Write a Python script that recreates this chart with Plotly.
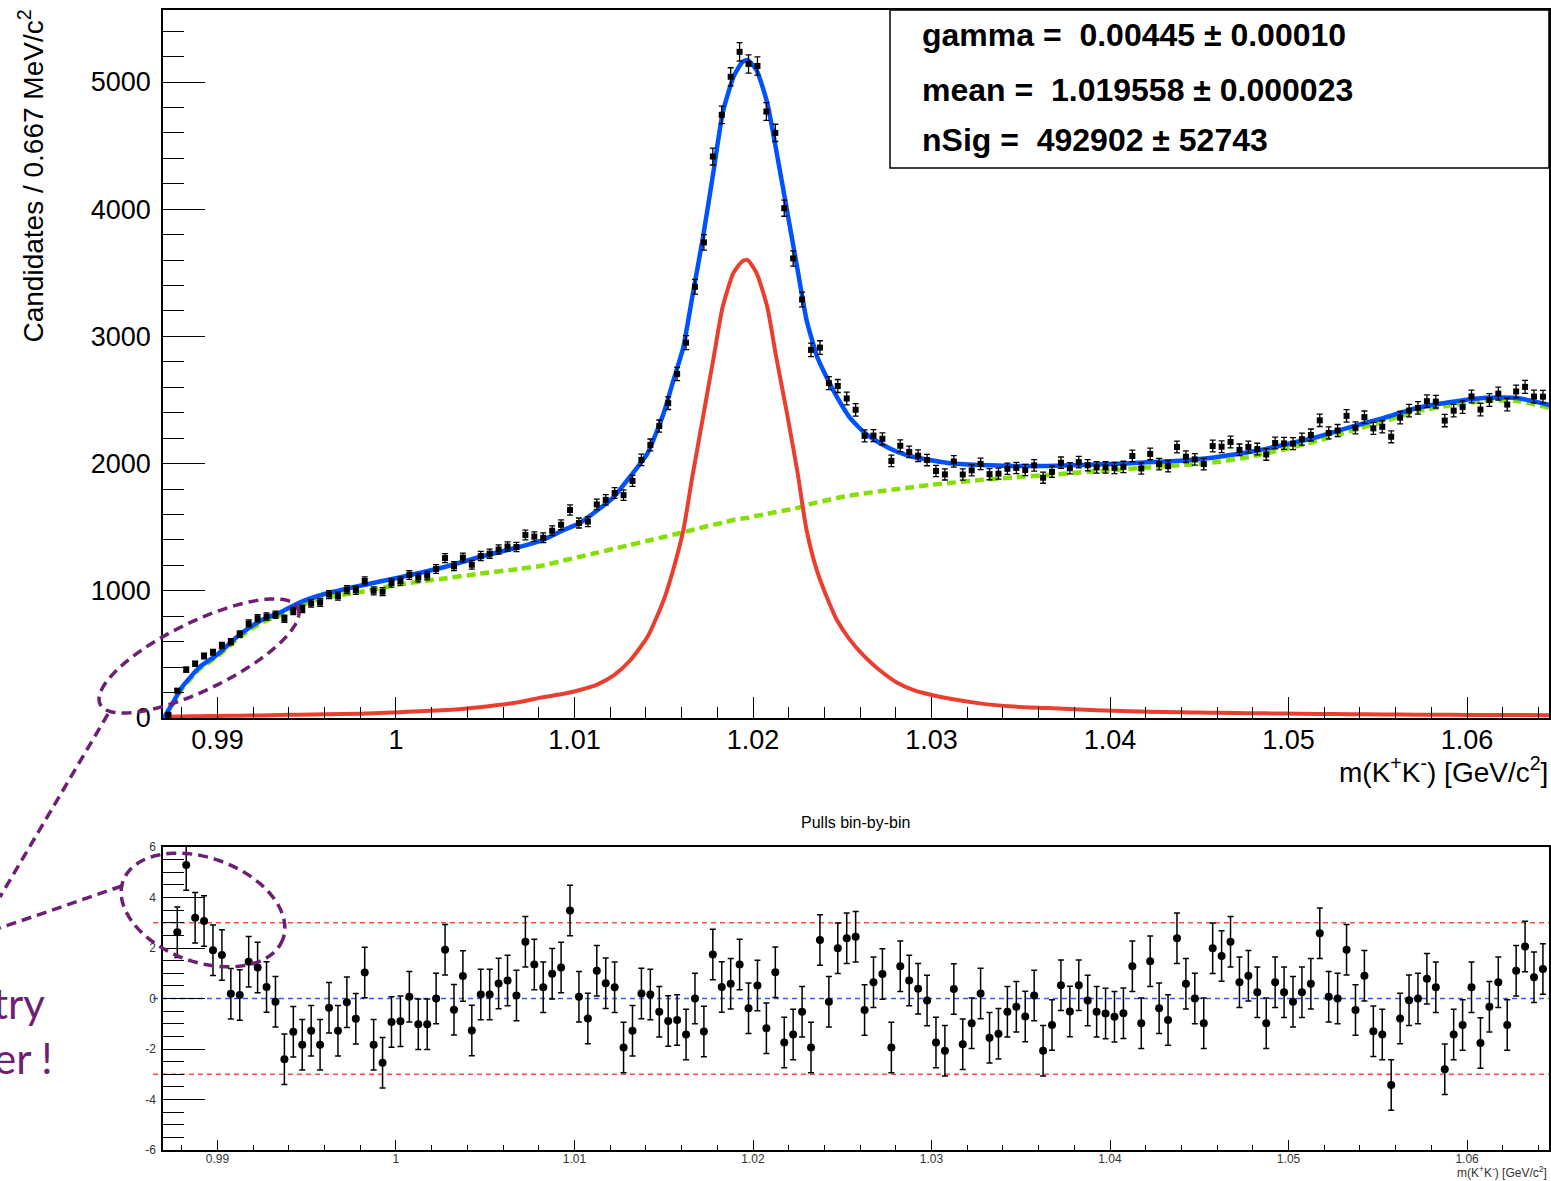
import numpy as np
import plotly.graph_objects as go

# ---------------- data ----------------
BIN_LOW = 0.9870
BIN_WIDTH = 0.0005

DATA_COUNTS = [
    25, 215, 380, 426, 488, 517, 570, 600, 659, 744,
    784, 798, 811, 780, 841, 857, 901, 908, 970, 958,
    1009, 1004, 1077, 1000, 993, 1061, 1076, 1124, 1104, 1119,
    1172, 1257, 1194, 1261, 1205, 1274, 1292, 1325, 1348, 1344,
    1439, 1426, 1417, 1472, 1519, 1635, 1533, 1544, 1679, 1715,
    1769, 1752, 1864, 2029, 2147, 2295, 2475, 2705, 2951, 3390,
    3739, 4414, 4742, 5041, 5237, 5142, 5126, 4768, 4600, 4008,
    3613, 3290, 2894, 2912, 2633, 2610, 2512, 2423, 2218, 2220,
    2195, 2021, 2140, 2092, 2062, 2028, 1942, 1915, 2017, 1914,
    1947, 1998, 1917, 1921, 1959, 1966, 1949, 1986, 1889, 1935,
    2007, 1964, 2012, 1987, 1970, 1970, 1966, 1974, 2060, 1962,
    2076, 1996, 1980, 2131, 2054, 2033, 1996, 2138, 2133, 2170,
    2108, 2131, 2114, 2072, 2162, 2159, 2157, 2192, 2225, 2340,
    2241, 2260, 2375, 2281, 2365, 2277, 2289, 2211, 2361, 2417,
    2438, 2491, 2487, 2338, 2416, 2444, 2528, 2425, 2500, 2550,
    2464, 2567, 2603, 2527, 2526,
]

PULLS = [
    2.62, 5.29, 3.2, 3.07, 1.91, 1.72, 0.19, 0.14, 1.46, 1.23,
    0.46, -0.13, -2.41, -1.32, -1.83, -1.28, -1.83, -0.37, -1.28, -0.15,
    -0.8, 1.03, -1.83, -2.54, -0.93, -0.9, 0.07, -1.02, -1.02, 0.0,
    1.93, -0.45, 0.89, -1.27, 0.16, 0.16, 0.59, 0.71, 0.12, 2.25,
    1.35, 0.45, 0.98, 1.23, 3.49, 0.07, -0.79, 1.1, 0.6, 0.45,
    -1.94, -1.28, 0.2, 0.16, -0.52, -0.89, -0.85, -1.43, 0.0, -1.31,
    1.74, 0.46, 0.58, 1.35, -0.39, 0.51, -1.18, 1.04, -1.74, -1.43,
    -0.52, -1.94, 2.32, -0.13, 1.99, 2.39, 2.45, -0.46, 0.64, 0.97,
    -1.94, 1.28, 0.71, 0.39, -0.08, -1.74, -2.07, 0.38, -1.81, -0.98,
    0.2, -1.55, -1.4, -0.52, -0.33, -0.71, 0.12, -2.07, -1.05, 0.52,
    -0.51, 0.52, -0.08, -0.52, -0.59, -0.72, -0.58, 1.28, -0.98, 1.48,
    -0.39, -0.85, 2.39, 0.58, 0.0, -0.98, 1.99, 1.68, 2.25, 0.64,
    0.9, 0.25, -0.98, 0.64, 0.25, -0.13, 0.25, 0.58, 2.58, 0.07,
    0.0, 1.93, -0.46, 0.9, -1.3, -1.43, -3.43, -0.79, -0.07, 0.0,
    0.78, 0.45, -2.8, -1.43, -1.05, 0.45, -1.76, -0.33, 0.64, -1.05,
    1.1, 2.06, 0.84, 1.17,
]

CURVE_X = [
    0.9870, 0.9875, 0.9880, 0.9890, 0.9900, 0.9912, 0.9924, 0.9935, 0.9946, 0.9960,
    0.9980, 1.0002, 1.0025, 1.0047, 1.0069, 1.0081, 1.0094, 1.0103, 1.0113, 1.0122,
    1.0131, 1.0141, 1.0150, 1.0155, 1.0161, 1.0166, 1.0172, 1.0178, 1.0183, 1.0189,
    1.0194, 1.0197, 1.0202, 1.0208, 1.0213, 1.0219, 1.0225, 1.0230, 1.0236, 1.0242,
    1.0247, 1.0254, 1.0262, 1.0271, 1.0281, 1.0290, 1.0299, 1.0309, 1.0327, 1.0346,
    1.0365, 1.0383, 1.0402, 1.0421, 1.0441, 1.0450, 1.0460, 1.0478, 1.0497, 1.0516,
    1.0535, 1.0553, 1.0572, 1.0591, 1.0609, 1.0628, 1.0646,
]

TOTAL_FIT = [
    0, 120, 240, 400, 500, 650, 765, 830, 908, 975,
    1040, 1105, 1179, 1266, 1344, 1392, 1478, 1533, 1635, 1737,
    1895, 2083, 2398, 2634, 2917, 3310, 3781, 4308, 4756, 5039,
    5157, 5173, 5094, 4835, 4465, 3994, 3522, 3129, 2838, 2657,
    2524, 2366, 2248, 2162, 2091, 2052, 2028, 2005, 1989, 1981,
    1981, 1989, 1997, 2010, 2024, 2036, 2052, 2091, 2146, 2209,
    2288, 2358, 2437, 2484, 2516, 2516, 2461,
]

SIGNAL = [
    8, 10, 12, 14, 16, 18, 20, 23, 26, 29,
    34, 45, 60, 85, 125, 160, 190, 220, 265, 335,
    450, 640, 928, 1150, 1478, 1895, 2366, 2838, 3231, 3498,
    3590, 3600, 3498, 3231, 2838, 2398, 1926, 1478, 1150, 928,
    770, 620, 490, 375, 275, 220, 185, 155, 115, 90,
    78, 66, 57, 50, 45, 43, 41, 38, 35, 32,
    30, 28, 26, 25, 24, 23, 22,
]

BACKGROUND = [
    0, 110, 225, 385, 484, 632, 745, 807, 882, 946,
    990, 1050, 1093, 1135, 1172, 1195, 1238, 1268, 1300, 1330,
    1360, 1393, 1423, 1440, 1460, 1478, 1500, 1520, 1535, 1557,
    1568, 1573, 1590, 1605, 1620, 1635, 1652, 1675, 1695, 1714,
    1730, 1748, 1765, 1782, 1800, 1816, 1832, 1846, 1871, 1891,
    1910, 1930, 1950, 1970, 1990, 1998, 2012, 2053, 2110, 2177,
    2258, 2330, 2411, 2459, 2492, 2493, 2439,
]

X_TICKS = [0.99, 1.00, 1.01, 1.02, 1.03, 1.04, 1.05, 1.06]
X_TICK_LABELS = ["0.99", "1", "1.01", "1.02", "1.03", "1.04", "1.05", "1.06"]
X_MINOR = [round(0.988 + 0.002 * i, 3) for i in range(39)]
Y_TICKS = [0, 1000, 2000, 3000, 4000, 5000]
Y_TICK_LABELS = ["0", "1000", "2000", "3000", "4000", "5000"]
Y_MINOR = [200 * i for i in range(28)]
PULL_TICKS = [-6, -4, -2, 0, 2, 4, 6]
PULL_TICK_LABELS = ["-6", "-4", "-2", "0", "2", "4", "6"]
PULL_MINOR = [-6 + 0.5 * i for i in range(25)]

STATS_LINES = [
    "gamma =\u00a0\u00a00.00445 \u00b1 0.00010",
    "mean =\u00a0\u00a01.019558 \u00b1 0.000023",
    "nSig =\u00a0\u00a0492902 \u00b1 52743",
]

X_RANGE = [0.98695, 1.06459]
Y_RANGE = [0, 5566]
PULL_RANGE = [-6, 6]

# ---------------- figure ----------------
W, H = 1551, 1181


def px(x):
    return x / W


def py(y):
    return 1 - y / H


centers = [BIN_LOW + BIN_WIDTH * (i + 0.5) for i in range(len(DATA_COUNTS))]
errors = [c ** 0.5 for c in DATA_COUNTS]
pull_x = centers[1:1 + len(PULLS)]

fig = go.Figure()

fig.add_trace(go.Scatter(x=CURVE_X, y=BACKGROUND, mode="lines", xaxis="x", yaxis="y",
                         line=dict(color="#84e000", width=4.5, dash="9px,5px", shape="spline", smoothing=0.5),
                         hoverinfo="skip"))
fig.add_trace(go.Scatter(x=CURVE_X, y=SIGNAL, mode="lines", xaxis="x", yaxis="y",
                         line=dict(color="#ea3f2e", width=4, shape="spline", smoothing=0.6),
                         hoverinfo="skip"))
fig.add_trace(go.Scatter(x=CURVE_X, y=TOTAL_FIT, mode="lines", xaxis="x", yaxis="y",
                         line=dict(color="#0052ff", width=4.5, shape="spline", smoothing=0.5),
                         hoverinfo="skip"))
fig.add_trace(go.Scatter(x=centers, y=DATA_COUNTS, mode="markers", xaxis="x", yaxis="y",
                         marker=dict(symbol="square", size=6, color="black"),
                         error_y=dict(type="data", array=errors, color="black", thickness=1.3, width=3)))
fig.add_trace(go.Scatter(x=pull_x, y=PULLS, mode="markers", xaxis="x2", yaxis="y2",
                         marker=dict(symbol="circle", size=8, color="black"),
                         error_y=dict(type="constant", value=1, color="black", thickness=1.5, width=3)))

common = dict(showline=True, linecolor="black", linewidth=1.5, mirror=True, showgrid=False,
              zeroline=False, ticks="inside", tickcolor="black", tickwidth=1.3, automargin=False,
              tickmode="array")

fig.update_layout(
    width=W, height=H, margin=dict(l=0, r=0, t=0, b=0),
    paper_bgcolor="white", plot_bgcolor="rgba(0,0,0,0)", showlegend=False,
    font=dict(family="Liberation Sans, Arial, sans-serif", color="black"),
    xaxis=dict(domain=[px(163), px(1549)], range=X_RANGE, anchor="y",
               tickvals=X_TICKS, ticktext=X_TICK_LABELS, ticklen=21, tickfont=dict(size=27),
               ticklabelstandoff=-3,
               minor=dict(tickmode="array", tickvals=X_MINOR, ticks="inside", ticklen=11,
                          tickwidth=1.3, tickcolor="black"), **common),
    yaxis=dict(domain=[py(718), py(10)], range=Y_RANGE, anchor="x",
               tickvals=Y_TICKS, ticktext=Y_TICK_LABELS, ticklen=42, tickfont=dict(size=27),
               ticklabelstandoff=5,
               minor=dict(tickmode="array", tickvals=Y_MINOR, ticks="inside", ticklen=21,
                          tickwidth=1.3, tickcolor="black"), **common),
    xaxis2=dict(domain=[px(163), px(1549)], range=X_RANGE, anchor="y2",
                tickvals=X_TICKS, ticktext=X_TICK_LABELS, ticklen=10,
                tickfont=dict(size=12, color="#333"), ticklabelstandoff=-3,
                minor=dict(tickmode="array", tickvals=X_MINOR, ticks="inside", ticklen=5,
                           tickwidth=1.2, tickcolor="black"), **common),
    yaxis2=dict(domain=[py(1150), py(847)], range=PULL_RANGE, anchor="x2",
                tickvals=PULL_TICKS, ticktext=PULL_TICK_LABELS, ticklen=42,
                tickfont=dict(size=12, color="#333"), ticklabelstandoff=3,
                minor=dict(tickmode="array", tickvals=PULL_MINOR, ticks="inside", ticklen=21,
                           tickwidth=1.2, tickcolor="black"), **common),
)

shapes = []
# stats box
shapes.append(dict(type="rect", xref="paper", yref="paper", x0=px(890), x1=px(1549),
                   y0=py(168), y1=py(10), line=dict(color="black", width=1.5),
                   fillcolor="white", layer="above"))
# pull reference lines
for yv, col in [(3, "#ff4a4a"), (-3, "#ff4a4a"), (0, "#2a5cff")]:
    shapes.append(dict(type="line", xref="paper", yref="y2", x0=px(153), x1=px(1549),
                       y0=yv, y1=yv, line=dict(color=col, width=1.5, dash="5px,4px"),
                       layer="below"))

PURPLE = "#6e1f74"


def ellipse_path(cx, cy, a, b, ang):
    t = np.linspace(0, 2 * np.pi, 120)
    th = np.radians(ang)
    xs = cx + a * np.cos(t) * np.cos(th) - b * np.sin(t) * np.sin(th)
    ys = cy + a * np.cos(t) * np.sin(th) + b * np.sin(t) * np.cos(th)
    return "M " + " L ".join(f"{px(x):.5f},{py(y):.5f}" for x, y in zip(xs, ys)) + " Z"


for cx, cy, a, b, ang in [(199, 656, 110, 34, -26), (203, 910, 85, 52, 20)]:
    shapes.append(dict(type="path", xref="paper", yref="paper", path=ellipse_path(cx, cy, a, b, ang),
                       line=dict(color=PURPLE, width=3.5, dash="10px,6px"), layer="above"))
for x0, y0, x1, y1 in [(108, 714, 0, 897), (122, 886, 0, 928)]:
    shapes.append(dict(type="line", xref="paper", yref="paper", x0=px(x0), y0=py(y0),
                       x1=px(x1), y1=py(y1), line=dict(color=PURPLE, width=3.5, dash="10px,6px"),
                       layer="above"))
fig.update_layout(shapes=shapes)

ann = []
ann.append(dict(text="Candidates / 0.667 MeV/c<sup>2</sup>", textangle=-90, xref="paper", yref="paper",
                x=px(32), y=py(8), xanchor="center", yanchor="top", showarrow=False,
                font=dict(size=28)))
ann.append(dict(text="m(K<sup>+</sup>K<sup>-</sup>) [GeV/c<sup>2</sup>]", xref="paper", yref="paper",
                x=px(1550), y=py(770), xanchor="right", yanchor="middle", showarrow=False,
                font=dict(size=28)))
for line, yc in zip(STATS_LINES, [35, 90, 140]):
    ann.append(dict(text=line, xref="paper", yref="paper", x=px(920), y=py(yc),
                    xanchor="left", yanchor="middle", showarrow=False,
                    font=dict(size=32, weight="bold")))
ann.append(dict(text="Pulls bin-by-bin", xref="paper", yref="paper", x=px(855), y=py(822),
                xanchor="center", yanchor="middle", showarrow=False, font=dict(size=16)))
ann.append(dict(text="m(K<sup>+</sup>K<sup>-</sup>) [GeV/c<sup>2</sup>]", xref="paper", yref="paper",
                x=px(1549), y=py(1172), xanchor="right", yanchor="middle", showarrow=False,
                font=dict(size=12, color="#333")))
ann.append(dict(text="try", xref="paper", yref="paper", x=px(47), y=py(1003),
                xanchor="right", yanchor="middle", showarrow=False,
                font=dict(size=42, color=PURPLE, family="Lato, Open Sans, sans-serif")))
ann.append(dict(text="er !", xref="paper", yref="paper", x=px(55), y=py(1058),
                xanchor="right", yanchor="middle", showarrow=False,
                font=dict(size=42, color=PURPLE, family="Lato, Open Sans, sans-serif")))
fig.update_layout(annotations=ann)

fig.write_html("out.html", config={"displayModeBar": False},
               post_script="document.body.style.margin='0px';document.body.style.overflow='hidden';")
